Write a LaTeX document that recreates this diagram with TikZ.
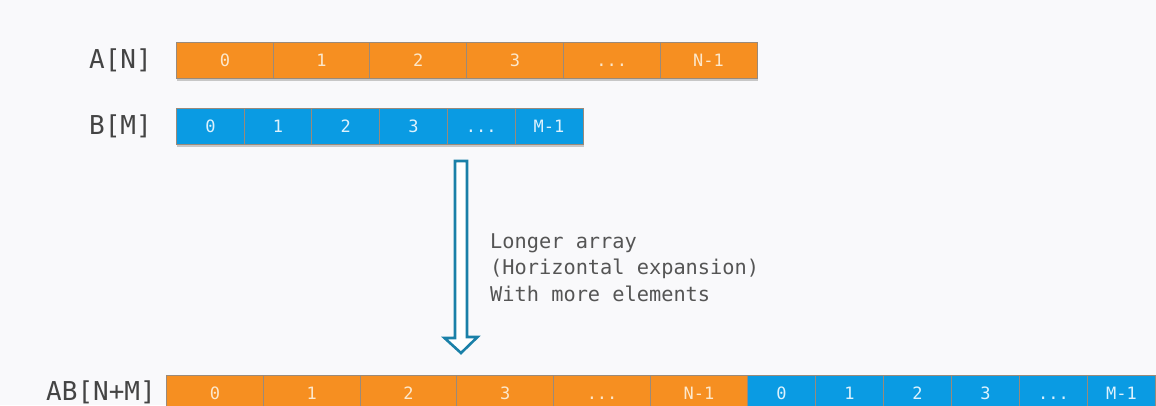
\documentclass[tikz,border=0pt]{standalone}
\usepackage{fontspec}
\usetikzlibrary{calc}
\setmonofont{DejaVu Sans Mono}
\newcommand\threedots{.\kern0pt.\kern0pt.}
\definecolor{bg}{HTML}{F9F9FB}
\definecolor{orng}{HTML}{F68F21}
\definecolor{blu}{HTML}{0A9BE3}
\definecolor{otext}{HTML}{FCE8CC}
\definecolor{btext}{HTML}{DDF2FD}
\definecolor{cellline}{HTML}{9A8A7A}
\definecolor{lbl}{HTML}{444444}
\definecolor{note}{HTML}{555555}
\definecolor{arr}{HTML}{1A80A8}
\tikzset{
  cellbase/.style={draw=cellline, line width=0.8pt, minimum height=36pt, inner sep=0pt, text height=12.4pt, text depth=0pt, anchor=north west, font=\ttfamily\fontsize{17}{17}\selectfont},
  cellA/.style={cellbase, fill=orng, text=otext, minimum width=97pt},
  cellB/.style={cellbase, fill=blu, text=btext, minimum width=68pt},
  rowlabel/.style={anchor=east, text=lbl, inner sep=0pt, font=\ttfamily\fontsize{26}{26}\selectfont},
  notetext/.style={anchor=north west, text=note, inner sep=0pt, align=left, font=\ttfamily\fontsize{20.3}{26.5}\selectfont},
  shadowbar/.style={fill=black!22}
}
\begin{document}
\begin{tikzpicture}[x=1pt,y=-1pt]
\fill[bg] (0,0) rectangle (1156,405);
\useasboundingbox (0,0) rectangle (1156,405);
% shadows
\fill[shadowbar] (177,45) rectangle (758,81);
\fill[shadowbar] (177,111) rectangle (584,147);
% row A
\node[rowlabel] (labA) at (152,60) {A[N]};
\foreach \t [count=\i from 0] in {0,1,2,3,\threedots,N-1} {
  \node[cellA] (a\i) at ({176+96.7*\i},42) {\t};
}
% row B
\node[rowlabel] (labB) at (152,126) {B[M]};
\foreach \t [count=\i from 0] in {0,1,2,3,\threedots,M-1} {
  \node[cellB] (b\i) at ({176+67.7*\i},108) {\t};
}
% row AB
\fill[shadowbar] (167,378) rectangle (1160,410);
\node[rowlabel] (labAB) at (156,392) {AB[N+M]};
\foreach \t [count=\i from 0] in {0,1,2,3,\threedots,N-1} {
  \node[cellA] (ab\i) at ({166+96.8*\i},375) {\t};
}
\foreach \t [count=\i from 0] in {0,1,2,3,\threedots,M-1} {
  \node[cellB] (abb\i) at ({747+68*\i},375) {\t};
}
% hollow arrow
\coordinate (arrtop) at (461,161);
\coordinate (arrtip) at (461,353);
\draw[arr, line width=2.6pt, line join=miter, fill=white]
  ([xshift=-6pt]arrtop) -- ([xshift=6pt]arrtop) -- ++(0,176) -- ++(10.5,0)
  -- (arrtip) -- ($(arrtip)+(-16.5,-15)$) -- ++(10.5,0) -- cycle;
% note
\node[notetext] (note) at (490,233) {Longer array\\(Horizontal expansion)\\With more elements};
\end{tikzpicture}
\end{document}
